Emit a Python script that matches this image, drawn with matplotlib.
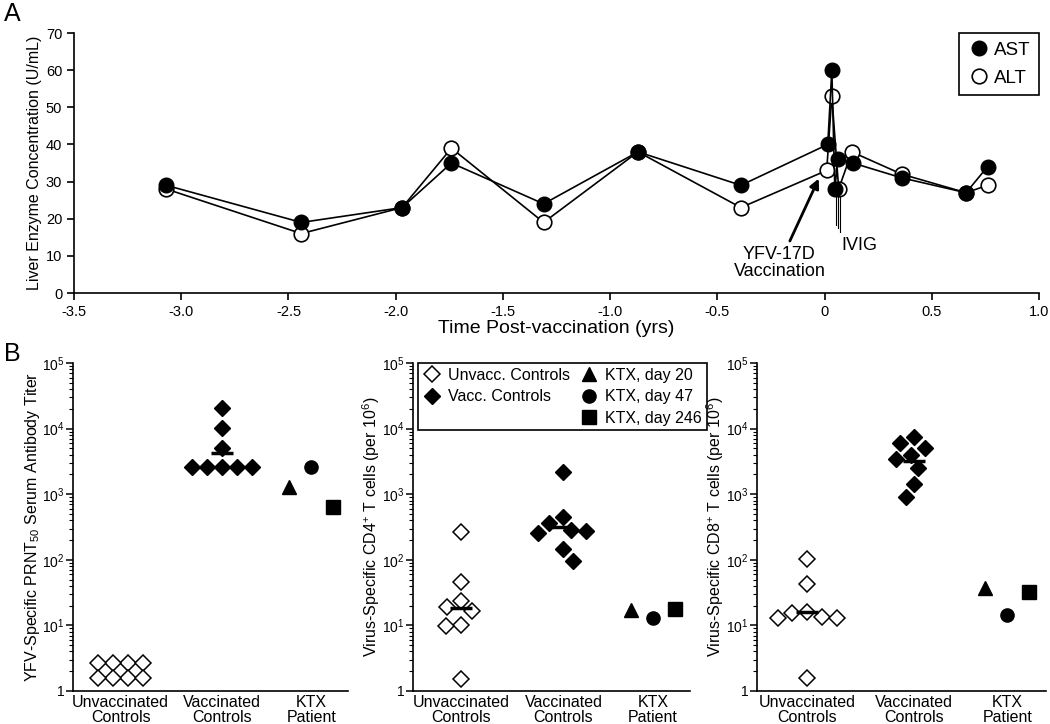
import numpy as np
import matplotlib.pyplot as plt
from matplotlib.lines import Line2D
from matplotlib.ticker import LogLocator, NullFormatter

plt.rcParams['font.family'] = ['Liberation Sans', 'DejaVu Sans']
plt.rcParams['mathtext.fontset'] = 'custom'
plt.rcParams['mathtext.rm'] = 'Liberation Sans'

# ---- panel A: liver enzymes over time (years relative to vaccination)
ast_t = [-3.07, -2.44, -1.97, -1.74, -1.31, -0.87, -0.39, 0.015, 0.034, 0.048, 0.062, 0.132, 0.36, 0.66, 0.76]
ast = [29, 19, 23, 35, 24, 38, 29, 40, 60, 28, 36, 35, 31, 27, 34]
alt_t = [-3.07, -2.44, -1.97, -1.74, -1.31, -0.87, -0.39, 0.010, 0.034, 0.066, 0.127, 0.36, 0.66, 0.76]
alt = [28, 16, 23, 39, 19, 38, 23, 33, 53, 28, 38, 32, 27, 29]
ivig_t = [0.054, 0.064, 0.074]
xticksA = [-3.5, -3.0, -2.5, -2.0, -1.5, -1.0, -0.5, 0, 0.5, 1.0]
xlabelsA = ['-3.5', '-3.0', '-2.5', '-2.0', '-1.5', '-1.0', '-0.5', '0', '0.5', '1.0']

# ---- panel B: PRNT50 titers, CD4 and CD8 responses
groups = ['Unvaccinated\nControls', 'Vaccinated\nControls', 'KTX\nPatient']
prnt_unvacc = [2.7, 2.7, 2.7, 2.7, 1.6, 1.6, 1.6, 1.6]
prnt_vacc = [20480, 10240, 5120, 2560, 2560, 2560, 2560, 2560]
prnt_ktx = [1280, 2560, 640]
cd4_unvacc = [265, 46, 23.6, 19.2, 16.6, 10.2, 9.8, 1.5]
cd4_vacc = [2200, 450, 364, 284, 275, 257, 146, 96]
cd4_ktx = [17, 13, 17.5]
cd8_unvacc = [103, 43, 16, 15.5, 13.5, 13, 13, 1.58]
cd8_vacc = [7400, 6000, 5000, 4000, 3450, 2500, 1450, 920]
cd8_ktx = [37, 14.5, 32]
ktx_labels = ['KTX, day 20', 'KTX, day 47', 'KTX, day 246']
ktx_markers = ['^', 'o', 's']


def gmean(v):
    return float(np.exp(np.mean(np.log(v))))


def px_dx(ax, x, dpx):
    x0 = ax.transData.transform((x, 1))[0]
    return ax.transData.inverted().transform((x0 + dpx, 1))[0]


def swarm(ax, values, center, diam=15.0):
    ypx = np.array([ax.transData.transform((center, v))[1] for v in values])
    order = np.argsort(-np.asarray(values, dtype=float), kind='stable')
    xs = np.zeros(len(values))
    placed = []
    side = -1
    for i in order:
        best = None
        for step in np.arange(0, 10 * diam, 0.5):
            cands = [0.0] if step == 0 else [side * step, -side * step]
            for c in cands:
                if all((c - px) ** 2 + (ypx[i] - py) ** 2 >= diam ** 2 - 1e-6 for px, py in placed):
                    best = c
                    break
            if best is not None:
                break
        if best != 0:
            side = -np.sign(best)
        xs[i] = best
        placed.append((best, ypx[i]))
    for v in set(values):
        idx = [k for k, w in enumerate(values) if w == v]
        if len(idx) > 1:
            xs[idx] -= xs[idx].mean()
    return [px_dx(ax, center, d) for d in xs]


fig = plt.figure(figsize=(10.5, 7.24), dpi=100)

# ---------------- panel A
axA = fig.add_axes([0.0705, 0.5953, 0.919, 0.3591])
axA.plot(alt_t, alt, '-o', color='k', mfc='white', mec='k', ms=10.5, mew=1.2, lw=1.2, zorder=3)
axA.plot(ast_t, ast, '-o', color='k', mfc='k', mec='k', ms=10.5, lw=1.2, zorder=4)
axA.set_xlim(-3.5, 1.0)
axA.set_ylim(0, 70)
axA.set_xticks(xticksA)
axA.set_xticklabels(xlabelsA)
axA.set_yticks(range(0, 71, 10))
axA.spines[['top', 'right']].set_visible(False)
for s in axA.spines.values():
    s.set_linewidth(1.2)
axA.tick_params(direction='out', length=5, width=1.2, labelsize=10.5)
axA.set_xlabel('Time Post-vaccination (yrs)', fontsize=14, labelpad=1)
axA.set_ylabel('Liver Enzyme Concentration (U/mL)', fontsize=11.5, labelpad=3)

for t, ylo in zip(ivig_t, [18.3, 17.5, 16.4]):
    axA.plot([t, t], [26, ylo], color='k', lw=0.8, zorder=2)
axA.text(0.164, 12.9, 'IVIG', fontsize=13, ha='center', va='center')
axA.annotate('YFV-17D\nVaccination', xy=(-0.027, 30.8), xytext=(-0.21, 8.0),
             fontsize=13, ha='center', va='center', linespacing=1.0,
             arrowprops=dict(arrowstyle='-|>', color='k', lw=2, mutation_scale=14,
                             shrinkA=2, shrinkB=0))

hA = [Line2D([], [], ls='none', marker='o', mfc='k', mec='k', ms=10.5),
      Line2D([], [], ls='none', marker='o', mfc='white', mec='k', ms=10.5, mew=1.2)]
legA = axA.legend(hA, ['AST', 'ALT'], loc='upper right', bbox_to_anchor=(1.0, 1.0),
                  fontsize=13.5, frameon=True, fancybox=False, edgecolor='k',
                  framealpha=1, handletextpad=0.2, handlelength=1.2, borderpad=0.45,
                  labelspacing=0.6, borderaxespad=0)
legA.get_frame().set_linewidth(1.2)

# ---------------- panel B
cat_pos = [0.52, 1.63, 2.6]
ticks_log = [1, 10, 100, 1000, 1e4, 1e5]
tick_labels_log = ['1', r'$\mathregular{10^1}$', r'$\mathregular{10^2}$', r'$\mathregular{10^3}$',
                   r'$\mathregular{10^4}$', r'$\mathregular{10^5}$']

panels = [
    ([0.0695, 0.0456, 0.2619, 0.4530], prnt_unvacc, prnt_vacc, prnt_ktx,
     r'YFV-Specific PRNT$\mathregular{_{50}}$ Serum Antibody Titer', False),
    ([0.3933, 0.0456, 0.2638, 0.4530], cd4_unvacc, cd4_vacc, cd4_ktx,
     r'Virus-Specific CD4$\mathregular{^{+}}$ T cells (per 10$\mathregular{^{6}}$)', True),
    ([0.7210, 0.0456, 0.2752, 0.4530], cd8_unvacc, cd8_vacc, cd8_ktx,
     r'Virus-Specific CD8$\mathregular{^{+}}$ T cells (per 10$\mathregular{^{6}}$)', True),
]

axes_b = []
for rect, unv, vac, ktx, ylab, unv_mean in panels:
    ax = fig.add_axes(rect)
    axes_b.append(ax)
    ax.set_yscale('log')
    ax.set_ylim(1, 1e5)
    ax.set_xlim(0, 3)
    ax.set_yticks(ticks_log)
    ax.set_yticklabels(tick_labels_log)
    ax.yaxis.set_minor_locator(LogLocator(base=10, subs=np.arange(2, 10)))
    ax.yaxis.set_minor_formatter(NullFormatter())
    ax.set_xticks(cat_pos)
    ax.set_xticklabels(groups, fontsize=11.5, linespacing=0.95)
    ax.spines[['top', 'right']].set_visible(False)
    for s in ax.spines.values():
        s.set_linewidth(1.2)
    ax.tick_params(axis='y', which='major', direction='out', length=5, width=1.1, labelsize=10, pad=1)
    ax.tick_params(axis='y', which='minor', direction='out', length=3, width=0.8)
    ax.tick_params(axis='x', length=0, pad=3)
    ax.set_ylabel(ylab, fontsize=11.5, labelpad=0)

    xu = swarm(ax, unv, cat_pos[0])
    ax.plot(xu, unv, ls='none', marker='D', ms=7.8, mfc='white', mec='k', mew=1.1, zorder=3)
    xv = swarm(ax, vac, cat_pos[1])
    ax.plot(xv, vac, ls='none', marker='D', ms=7.8, mfc='k', mec='k', zorder=3)
    for k, (val, mk) in enumerate(zip(ktx, ktx_markers)):
        xk = px_dx(ax, cat_pos[2], (k - 1) * 22)
        ax.plot([xk], [val], ls='none', marker=mk, ms=9.5, mfc='k', mec='k', zorder=3)
    for pos, vals, show in [(cat_pos[0], unv, unv_mean), (cat_pos[1], vac, True)]:
        if show:
            ax.plot([px_dx(ax, pos, -11), px_dx(ax, pos, 11)], [gmean(vals)] * 2,
                    color='k', lw=2.5, solid_capstyle='butt', zorder=4)

hB = [Line2D([], [], ls='none', marker='D', ms=7.8, mfc='white', mec='k', mew=1.1),
      Line2D([], [], ls='none', marker='D', ms=7.8, mfc='k', mec='k'),
      Line2D([], [], ls='none', marker=None)]
hB += [Line2D([], [], ls='none', marker=m, ms=9.5, mfc='k', mec='k') for m in ktx_markers]
legB = axes_b[1].legend(hB, ['Unvacc. Controls', 'Vacc. Controls', ''] + ktx_labels, ncol=2,
                        loc='upper left', bbox_to_anchor=(0.398, 0.4986),
                        bbox_transform=fig.transFigure, fontsize=11.5, frameon=True,
                        fancybox=False, edgecolor='k', framealpha=1, handletextpad=0.4,
                        handlelength=1.2, borderpad=0.3, labelspacing=0.4,
                        columnspacing=0.6, borderaxespad=0)
legB.get_frame().set_linewidth(1.2)

fig.text(0.004, 0.997, 'A', fontsize=18, ha='left', va='top')
fig.text(0.004, 0.527, 'B', fontsize=18, ha='left', va='top')

fig.savefig('out.png', dpi=100)
